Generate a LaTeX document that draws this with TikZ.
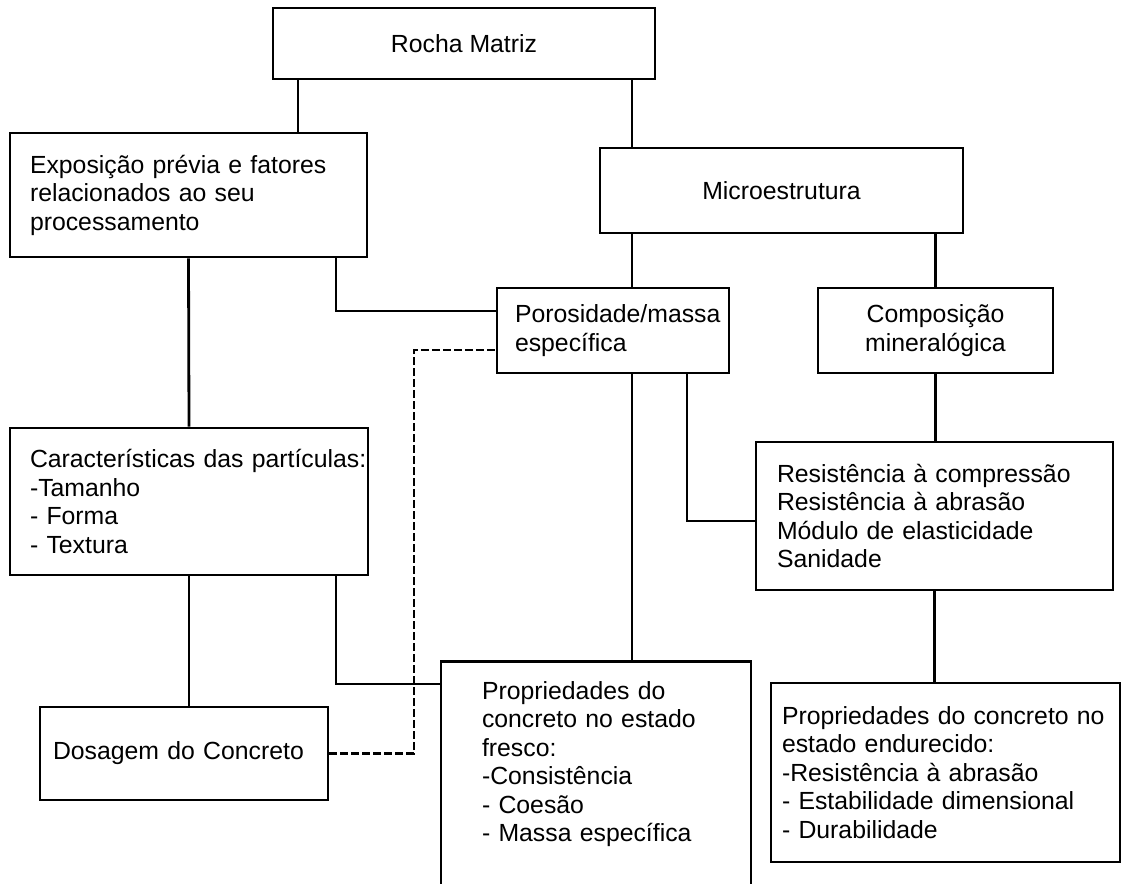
\documentclass[tikz,border=0pt]{standalone}
\usepackage{fontspec}
\setmainfont{Liberation Sans}
\newcommand\boxfont{\fontsize{12.4}{14.25}\selectfont}

\begin{document}
\begin{tikzpicture}[
         x = 0.5pt, y = -0.5pt,
      base/.style = {draw, line width=1.4pt, inner ysep=2pt, font=\boxfont},
   headbox/.style = {base, align=center},
   listbox/.style = {base, align=left},
      link/.style = {line width=1.4pt},
  dashlink/.style = {link, dash pattern=on 4pt off 1.5pt}
                    ]
  \useasboundingbox (0,0) rectangle (1123,883);
  %
  \node [headbox, minimum width=191pt, minimum height=35.5pt] (rocha) at (464,43.5) {Rocha Matriz};
  \node [listbox, text width=158.5pt, inner xsep=10pt, minimum height=62pt] (expo) at (188.5,195) {Exposição prévia e fatores\\ relacionados ao seu\\ processamento};
  \node [headbox, minimum width=181.5pt, minimum height=42.5pt] (micro) at (781.5,190.5) {Microestrutura};
  %---
  \node [listbox, text width=98pt, inner xsep=9pt, minimum height=42.5pt] (poro) at (613,330.5) {\mbox{Porosidade/massa}\\ específica};
  \node [headbox, minimum width=117.5pt, minimum height=42.5pt] (compo) at (935.5,330.5) {Composição\\ mineralógica};
  %---
  \node [listbox, text width=159pt, inner xsep=10pt, minimum height=73.5pt] (carac) at (189,501.5) {\mbox{Características das partículas:}\\-Tamanho\\- Forma\\- Textura};
  \node [listbox, text width=157.5pt, inner xsep=10.5pt, minimum height=74pt] (resist) at (934.5,516) {Resistência à compressão\\ Resistência à abrasão\\ Módulo de elasticidade\\ Sanidade};
  %===
  \node [listbox, text width=131pt, inner xsep=6.5pt, minimum height=46.5pt] (dosag) at (184,753.5) {Dosagem do Concreto};
  \node [listbox, text width=114pt, inner xsep=20.5pt, inner ysep=10pt, text depth=150pt, anchor=north] (fresco) at (596,660) {Propriedades do\\ concreto no estado\\ fresco:\\-Consistência\\- Coesão\\- Massa específica};
  \node [listbox, text width=163.5pt, inner xsep=5.5pt, minimum height=89.5pt] (endu) at (945.5,772.5) {Propriedades do concreto no\\ estado endurecido:\\-Resistência à abrasão\\- Estabilidade dimensional\\- Durabilidade};
  %
  \coordinate (bend) at (414,350);
  %---
  \draw [link] (298,0 |- rocha.south) -- (298,0 |- expo.north);
  \draw [link] (632,0 |- rocha.south) -- (632,0 |- micro.north);
  \draw [link] (632,0 |- micro.south) -- (632,0 |- poro.north);
  \draw [link] (compo.north |- micro.south) -- (compo.north);
  \draw [link] (expo.south) -- (carac.north);
  \draw [link] (336,0 |- expo.south) |- ([yshift=9.75pt]poro.west);
  \draw [link] (632,0 |- poro.south) -- (632,0 |- fresco.north);
  \draw [link] (687,0 |- poro.south) |- ([yshift=-2.5pt]resist.west);
  \draw [link] (compo.south) -- (compo.south |- resist.north);
  \draw [link] (resist.south) -- (resist.south |- endu.north);
  \draw [link] (carac.south) -- (carac.south |- dosag.north);
  \draw [link] (336,0 |- carac.south) |- ([yshift=-12pt]fresco.north west);
  \draw [dashlink] (dosag.east) -| (bend) -- ([yshift=-9.75pt]poro.west);
  %%%%%%
\end{tikzpicture}
\end{document}
